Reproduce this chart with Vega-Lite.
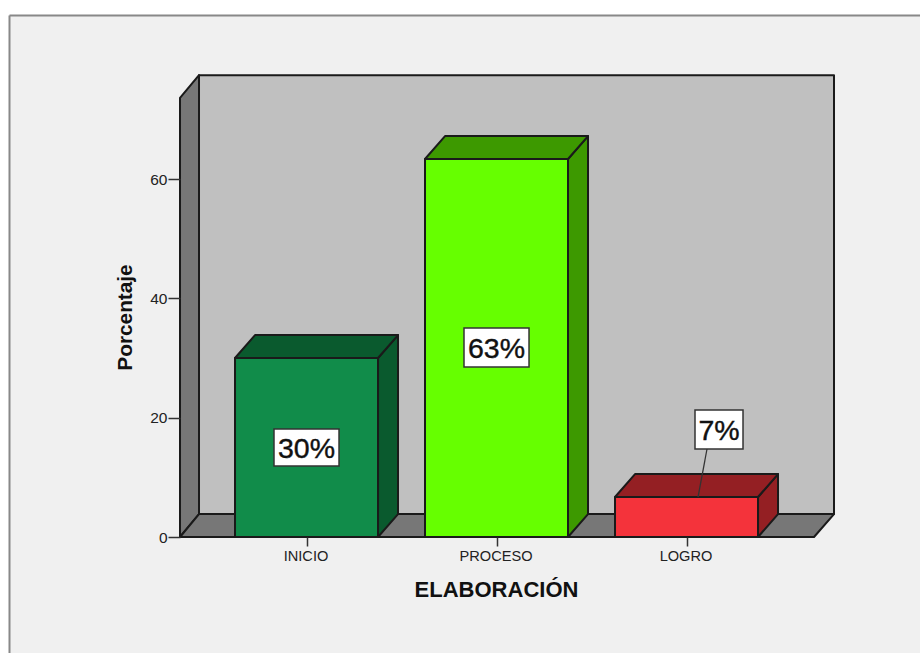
{
"$schema":"https://vega.github.io/schema/vega-lite/v6.json",
"width":920,"height":653,"padding":0,
"autosize":{"type":"fit","contains":"padding"},
"background":"#ffffff",
"config":{"view":{"stroke":null},"font":"Liberation Sans"},
"datasets":{
"faces":[
{"serie":"pared lateral","u":0.3342,"y":73.6,"y2":0},
{"serie":"pared lateral","u":0.4342,"y":77.4,"y2":3.85},
{"serie":"pared fondo","u":0.4342,"y":77.4,"y2":3.85},
{"serie":"pared fondo","u":3.7763,"y":77.4,"y2":3.85},
{"serie":"suelo","u":0.3342,"y":0,"y2":0},
{"serie":"suelo","u":0.4342,"y":3.85,"y2":0},
{"serie":"suelo","u":3.6711,"y":3.85,"y2":0},
{"serie":"suelo","u":3.7763,"y":3.85,"y2":3.85},
{"serie":"INICIO lado","u":1.3763,"y":30,"y2":0},
{"serie":"INICIO lado","u":1.4816,"y":33.85,"y2":3.85},
{"serie":"INICIO techo","u":0.6237,"y":30,"y2":30},
{"serie":"INICIO techo","u":0.729,"y":33.85,"y2":30},
{"serie":"INICIO techo","u":1.3763,"y":33.85,"y2":30},
{"serie":"INICIO techo","u":1.4816,"y":33.85,"y2":33.85},
{"serie":"INICIO frente","u":0.6237,"y":30,"y2":0},
{"serie":"INICIO frente","u":1.3763,"y":30,"y2":0},
{"serie":"PROCESO lado","u":2.3763,"y":63.35,"y2":0},
{"serie":"PROCESO lado","u":2.4816,"y":67.2,"y2":3.85},
{"serie":"PROCESO techo","u":1.6237,"y":63.35,"y2":63.35},
{"serie":"PROCESO techo","u":1.729,"y":67.2,"y2":63.35},
{"serie":"PROCESO techo","u":2.3763,"y":67.2,"y2":63.35},
{"serie":"PROCESO techo","u":2.4816,"y":67.2,"y2":67.2},
{"serie":"PROCESO frente","u":1.6237,"y":63.35,"y2":0},
{"serie":"PROCESO frente","u":2.3763,"y":63.35,"y2":0},
{"serie":"LOGRO lado","u":3.3763,"y":6.7,"y2":0},
{"serie":"LOGRO lado","u":3.4816,"y":10.55,"y2":3.85},
{"serie":"LOGRO techo","u":2.6237,"y":6.7,"y2":6.7},
{"serie":"LOGRO techo","u":2.729,"y":10.55,"y2":6.7},
{"serie":"LOGRO techo","u":3.3763,"y":10.55,"y2":6.7},
{"serie":"LOGRO techo","u":3.4816,"y":10.55,"y2":10.55},
{"serie":"LOGRO frente","u":2.6237,"y":6.7,"y2":0},
{"serie":"LOGRO frente","u":3.3763,"y":6.7,"y2":0}
],
"labels":[
{"label":"30%","u":1.0,"y":15.0,"u1":0.8289,"u2":1.1711,"y1":18.1,"y2":11.9},
{"label":"63%","u":2.0,"y":31.76,"u1":1.8289,"u2":2.1711,"y1":35.03,"y2":28.49},
{"label":"7%","u":3.171,"y":18.0,"u1":3.0447,"u2":3.2974,"y1":21.28,"y2":14.75}
]
},
"layer":[
{"data":{"values":[{"a":-0.5632,"b":4.2289,"c":-19.44,"d":87.4}]},
 "mark":{"type":"rect","fill":"#f0f0f0","stroke":null},
 "encoding":{
  "x":{"field":"a","type":"quantitative","scale":{"domain":[-0.6132,4.2289],"nice":false,"zero":false},
    "axis":{"values":[1,2,3],"orient":"bottom","offset":-116,"domain":false,"grid":false,"zindex":1,
      "labelExpr":"datum.value==1?'INICIO':datum.value==2?'PROCESO':'LOGRO'",
      "labelFontSize":14.6,"labelColor":"#222222","labelPadding":2,"labelOffset":-1,"labelFont":"Liberation Sans",
      "tickSize":9,"tickColor":"#333333","tickWidth":1.5,
      "title":"ELABORACIÓN","titleFont":"Liberation Sans","titleFontSize":22,"titleFontWeight":"bold","titleColor":"#111111",
      "titleX":496,"titleY":52,"titleBaseline":"middle"}},
  "x2":{"field":"b"},
  "y":{"field":"c","type":"quantitative","scale":{"domain":[-19.44,90.0],"nice":false,"zero":false},
    "axis":{"values":[0,20,40,60],"orient":"left","offset":-180,"domain":false,"grid":false,"zindex":1,
      "labelFontSize":15.5,"labelColor":"#222222","labelPadding":1,"labelFont":"Liberation Sans",
      "tickSize":12,"tickColor":"#333333","tickWidth":1.5,
      "title":"Porcentaje","titleFont":"Liberation Sans","titleFontSize":20.8,"titleFontWeight":"bold","titleColor":"#111111",
      "titleX":-55,"titleY":317,"titleBaseline":"middle"}},
  "y2":{"field":"d"}
 }},
{"data":{"values":[{"a":-0.5632,"b":4.2289,"c":87.4,"d":87.4},{"a":-0.5632,"b":-0.5632,"c":-19.44,"d":87.4}]},
 "mark":{"type":"rule","stroke":"#888888","strokeWidth":2,"clip":true},
 "encoding":{"x":{"field":"a","type":"quantitative"},"x2":{"field":"b"},"y":{"field":"c","type":"quantitative"},"y2":{"field":"d"}}},
{"data":{"name":"faces"},
 "mark":{"type":"area","stroke":"#1a1a1a","strokeWidth":2,"strokeJoin":"round","line":false,"opacity":1},
 "encoding":{
  "x":{"field":"u","type":"quantitative"},
  "y":{"field":"y","type":"quantitative","stack":null},
  "y2":{"field":"y2"},
  "fill":{"field":"serie","type":"nominal","legend":null,"scale":{
    "domain":["pared lateral","pared fondo","suelo","INICIO lado","INICIO techo","INICIO frente","PROCESO lado","PROCESO techo","PROCESO frente","LOGRO lado","LOGRO techo","LOGRO frente"],
    "range":["#777777","#c0c0c0","#777777","#0a5a2e","#0a5a2e","#118c4a","#3d9900","#3d9900","#66ff00","#941f23","#941f23","#f4333b"]}}
 }},
{"data":{"values":[{"u1":3.0605,"u2":3.1079,"y1":6.7,"y2":14.75}]},
 "mark":{"type":"rule","stroke":"#333333","strokeWidth":1.3},
 "encoding":{"x":{"field":"u1","type":"quantitative"},"x2":{"field":"u2"},"y":{"field":"y1","type":"quantitative"},"y2":{"field":"y2"}}},
{"data":{"name":"labels"},
 "mark":{"type":"rect","fill":"#ffffff","stroke":"#333333","strokeWidth":1.5},
 "encoding":{"x":{"field":"u1","type":"quantitative"},"x2":{"field":"u2"},"y":{"field":"y1","type":"quantitative"},"y2":{"field":"y2"}}},
{"data":{"name":"labels"},
 "mark":{"type":"text","font":"Liberation Sans","fontSize":28.5,"color":"#111111","stroke":"#111111","strokeWidth":0.4,"align":"center","baseline":"middle","dy":1.5},
 "encoding":{"x":{"field":"u","type":"quantitative"},"y":{"field":"y","type":"quantitative"},"text":{"field":"label"}}}
]
}
